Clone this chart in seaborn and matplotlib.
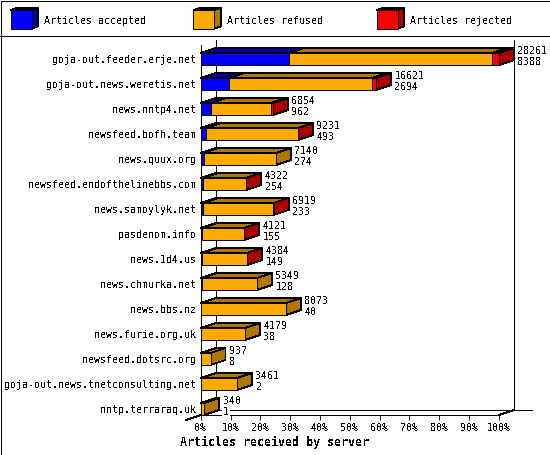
import numpy as np
import pandas as pd
import matplotlib.pyplot as plt
from matplotlib.patches import Polygon, Rectangle
import seaborn as sns

servers = ['goja-out.feeder.erje.net', 'goja-out.news.weretis.net', 'news.nntp4.net',
           'newsfeed.bofh.team', 'news.quux.org', 'newsfeed.endofthelinebbs.com',
           'news.samoylyk.net', 'pasdenom.info', 'news.1d4.us', 'news.chmurka.net',
           'news.bbs.nz', 'news.furie.org.uk', 'newsfeed.dotsrc.org',
           'goja-out.news.tnetconsulting.net', 'nntp.terraraq.uk']
# top number next to the bar = all offered, bottom number = accepted
total = [28261, 16621, 6854, 9231, 7140, 4322, 6919, 4121, 4384, 5349, 8073, 4179, 937, 3461, 340]
accepted = [8388, 2694, 962, 493, 274, 254, 233, 155, 149, 128, 40, 38, 8, 2, 1]
# rejected counts are estimated from the width of the red part
rejected = [620, 350, 180, 30, 0, 20, 20, 20, 20, 0, 0, 0, 0, 0, 0]
pct_ticks = [0, 10, 20, 30, 40, 50, 60, 70, 80, 90, 100]

legend_labels = ['Articles accepted', 'Articles refused', 'Articles rejected']
colors = ['#0000ff', '#ffaa00', '#ff0000']
dark = ['#0000b0', '#b07800', '#b00000']

W, H = 550, 455
X0, X100 = 200.7, 498.7
TOP, FLOOR = 40, 415
ROW = 25
DX = 15 / (X100 - X0) * 100   # depth of the bars in % units
DY = 5 / ROW                  # depth in row units
BAR_H = 12 / ROW
LW = 0.6

sns.set_theme(style='white', rc={'text.antialiased': False, 'lines.antialiased': False,
                                 'patch.antialiased': False})
plt.rcParams['font.family'] = ['DejaVu Sans Mono']
FS = 7.2

df = pd.DataFrame({'server': servers, 'total': total, 'accepted': accepted, 'rejected': rejected})
scale = 100 / df['total'].max()
df['end_acc'] = df['accepted'] * scale
df['end_ref'] = (df['total'] - df['rejected']) * scale
df['end_rej'] = df['total'] * scale

fig = plt.figure(figsize=(W / 100, H / 100), dpi=100, facecolor='white')
ax = fig.add_axes([X0 / W, (H - FLOOR) / H, (X100 - X0) / W, (FLOOR - TOP) / H])
ax.patch.set_alpha(0)

# walls and floor, behind the bars
ax.set_xlim(0, 100)
ax.set_ylim((FLOOR - 59) / ROW, (TOP - 59) / ROW)
y_floor, y_top = ax.get_ylim()
line = dict(color='black', lw=LW, clip_on=False, zorder=1)
ax.plot([DX, DX], [y_floor - DY, y_top], **line)
ax.plot([0, 0], [y_floor, y_top + DY], **line)
ax.plot([100 + DX, 100 + DX], [y_floor - DY, y_top], **line)
ax.plot([DX, 100 + DX + 6.2], [y_floor - DY, y_floor - DY], **line)
ax.plot([0, 100], [y_floor, y_floor], **line)
ax.plot([-DX, DX], [y_floor + DY, y_floor - DY], **line)
ax.plot([100, 100 + DX], [y_floor, y_floor - DY], **line)

# front faces: widest first, so the shorter ones lie over it
for col, c in zip(['end_rej', 'end_ref', 'end_acc'], [colors[2], colors[1], colors[0]]):
    sns.barplot(data=df, x=col, y='server', color=c, width=BAR_H, saturation=1, ax=ax,
                edgecolor='black', linewidth=LW, zorder=4, clip_on=False)

# top and side faces
for i, row in df.iterrows():
    top = i - BAR_H / 2
    bot = i + BAR_H / 2
    starts = [0, row['end_acc'], row['end_ref']]
    ends = [row['end_acc'], row['end_ref'], row['end_rej']]
    for s, e, c in zip(starts, ends, dark):
        if e > s:
            ax.add_patch(Polygon([(s, top), (s + DX, top - DY), (e + DX, top - DY), (e, top)],
                                 fc=c, ec='black', lw=LW, zorder=3, clip_on=False))
    side = dark[2] if row['rejected'] > 0 else dark[1]
    e = row['end_rej']
    ax.add_patch(Polygon([(e, top), (e + DX, top - DY), (e + DX, bot - DY), (e, bot)],
                         fc=side, ec='black', lw=LW, zorder=3, clip_on=False))
    tx = e + DX + 1.2
    ax.text(tx, i - 0.32, str(row['total']), fontsize=FS, va='center', ha='left', color='black',
            zorder=5, clip_on=False, bbox=dict(fc='white', ec='none', pad=0.5))
    ax.text(tx, i + 0.11, str(row['accepted']), fontsize=FS, va='center', ha='left', color='black',
            zorder=5, clip_on=False, bbox=dict(fc='white', ec='none', pad=0.5))

ax.set_xlim(0, 100)
ax.set_ylim(y_floor, y_top)
sns.despine(ax=ax, left=True, bottom=True)
ax.set_xlabel('')
ax.set_ylabel('')
ax.set_xticks(pct_ticks)
ax.set_xticklabels([f'{p}%' for p in pct_ticks], fontsize=FS, color='black')
ax.tick_params(axis='x', bottom=True, length=3.6, width=LW, color='black', pad=2.5)
ax.tick_params(axis='y', left=False, length=0, pad=3.4, labelsize=FS, labelcolor='black')
fig.text(274 / W, 1 - 442 / H, 'Articles received by server', fontsize=8.4, fontweight='bold',
         ha='center', va='center', color='black')

# legend boxes and frame, in pixels of the figure
px = fig.add_axes([0, 0, 1, 1], zorder=10)
px.set_xlim(0, W)
px.set_ylim(H, 0)
px.axis('off')
px.patch.set_alpha(0)
for x, label, c, d in zip([10.5, 193.3, 376.5], legend_labels, colors, dark):
    px.add_patch(Polygon([(x, 10), (x + 6.5, 8), (x + 27.5, 8), (x + 21, 10)], fc=d, ec='black', lw=LW))
    px.add_patch(Polygon([(x + 21, 10), (x + 27.5, 8), (x + 27.5, 26.5), (x + 21, 28.5)], fc=d, ec='black', lw=LW))
    px.add_patch(Rectangle((x, 10), 21, 18.5, fc=c, ec='black', lw=LW))
    px.text(x + 34, 20.5, label, fontsize=FS, va='center', ha='left', color='black')
px.plot([0, W], [35.5, 35.5], color='black', lw=LW)
px.add_patch(Rectangle((0.5, 0.5), W - 1, H - 1, fc='none', ec='black', lw=LW))

fig.savefig('out.png', dpi=100)
